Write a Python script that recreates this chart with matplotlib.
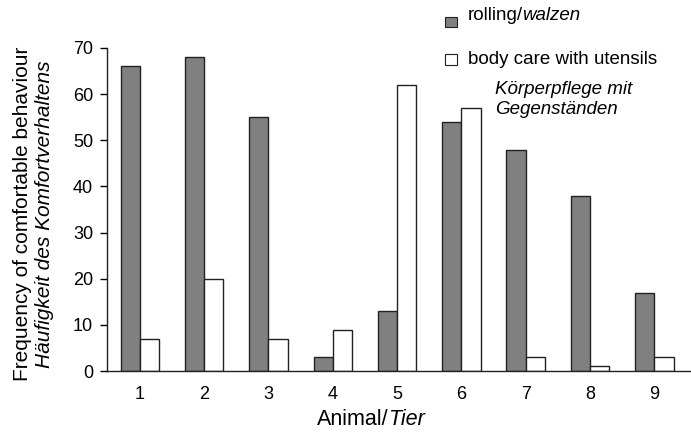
import matplotlib
matplotlib.use("Agg")
import matplotlib.pyplot as plt
import numpy as np
from matplotlib.patches import Rectangle

animals = [1, 2, 3, 4, 5, 6, 7, 8, 9]
rolling = [66, 68, 55, 3, 13, 54, 48, 38, 17]
body_care = [7, 20, 7, 9, 62, 57, 3, 1, 3]
y_ticks = [0, 10, 20, 30, 40, 50, 60, 70]

plt.rcParams["font.family"] = ["Liberation Sans", "DejaVu Sans"]

fig = plt.figure(figsize=(6.91, 4.32), dpi=100)
ax = fig.add_axes([0.155, 0.141, 0.844, 0.748])

x = np.array(animals, dtype=float)
w = 0.30
ax.bar(x - w / 2, rolling, width=w, color="#808080", edgecolor="#222222", linewidth=1.0)
ax.bar(x + w / 2, body_care, width=w, color="white", edgecolor="#222222", linewidth=1.0)

ax.set_xlim(0.49, 9.56)
ax.set_ylim(0, 70)
ax.set_xticks(animals)
ax.set_yticks(y_ticks)
ax.tick_params(axis="x", length=0, pad=11, labelsize=13)
ax.tick_params(axis="y", direction="out", length=5, width=1, pad=5, labelsize=13)
for s in ["top", "right"]:
    ax.spines[s].set_visible(False)
for s in ["left", "bottom"]:
    ax.spines[s].set_linewidth(1.0)
    ax.spines[s].set_color("#222222")

# axis labels with italic German translations
fig.text(0.562, 0.028, "Animal/", ha="right", va="center", fontsize=15.5)
fig.text(0.562, 0.028, "Tier", ha="left", va="center", fontsize=15.5, style="italic")
fig.text(0.032, 0.505, "Frequency of comfortable behaviour", rotation=90,
         ha="center", va="center", fontsize=15)
fig.text(0.065, 0.505, "Häufigkeit des Komfortverhaltens", rotation=90,
         ha="center", va="center", fontsize=15, style="italic")

# legend
fig.patches.append(Rectangle((445 / 691, 1 - 27 / 432), 12 / 691, 10 / 432,
                             transform=fig.transFigure, facecolor="#808080",
                             edgecolor="#222222", linewidth=0.8))
fig.patches.append(Rectangle((445 / 691, 1 - 65 / 432), 12 / 691, 11 / 432,
                             transform=fig.transFigure, facecolor="white",
                             edgecolor="#222222", linewidth=0.8))
fig.text(468 / 691, 1 - 15 / 432, "rolling/", ha="left", va="center", fontsize=13.5)
fig.text(522 / 691, 1 - 15 / 432, "walzen", ha="left", va="center", fontsize=13.5, style="italic")
fig.text(468 / 691, 1 - 60 / 432, "body care with utensils", ha="left", va="center", fontsize=13.5)
fig.text(495 / 691, 1 - 89 / 432, "Körperpflege mit", ha="left", va="center",
         fontsize=13.5, style="italic")
fig.text(495 / 691, 1 - 110 / 432, "Gegenständen", ha="left", va="center",
         fontsize=13.5, style="italic")

fig.savefig("out.png", dpi=100)
